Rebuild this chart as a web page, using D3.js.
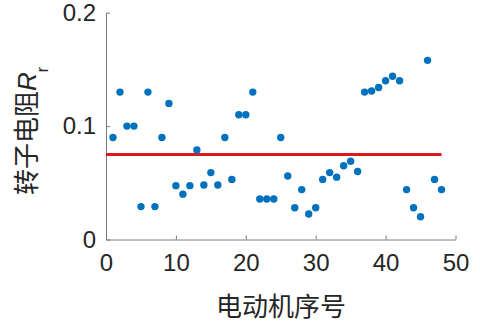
<!DOCTYPE html>
<html><head><meta charset="utf-8">
<script src="https://cdn.jsdelivr.net/npm/d3@7"></script>
<style>body{margin:0;background:#fff;}svg{display:block;}</style>
</head><body>
<svg id="c" width="480" height="330"></svg>
<script>
const motorIds = d3.range(1, 49);
const resistance = [0.090,0.130,0.100,0.100,0.029,0.130,0.029,0.090,0.120,0.0475,
  0.040,0.0475,0.079,0.048,0.059,0.048,0.090,0.053,0.110,0.110,
  0.130,0.0357,0.0357,0.0357,0.090,0.056,0.028,0.044,0.0225,0.028,
  0.053,0.059,0.055,0.065,0.069,0.060,0.130,0.131,0.134,0.140,
  0.144,0.140,0.044,0.028,0.020,0.158,0.053,0.044];
const meanValue = 0.075;
const meanRange = [0, 48];
const xTicks = [0,10,20,30,40,50];
const yTicks = [0,0.1,0.2];
const xLabel = "电动机序号";
const yLabel = "转子电阻";

const svg = d3.select("#c");
const x = d3.scaleLinear().domain([0,50]).range([106,455.5]);
const y = d3.scaleLinear().domain([0,0.2]).range([239.5,12.7]);
const font = "'Liberation Sans', Arial, sans-serif";
const cjk = "'Noto Sans CJK SC', sans-serif";
const axisCol = "#7a7a7a", textCol = "#262626";

const gx = svg.append("g").attr("transform",`translate(0,${y(0)})`)
  .call(d3.axisBottom(x).tickValues(xTicks).tickSizeInner(-4).tickSizeOuter(0).tickPadding(14).tickFormat(d3.format("d")));
const gy = svg.append("g").attr("transform",`translate(${x(0)},0)`)
  .call(d3.axisLeft(y).tickValues(yTicks).tickSizeInner(-4).tickSizeOuter(0).tickPadding(10).tickFormat(d => d===0?"0":d3.format(".1f")(d)));
[gx,gy].forEach(g=>{
  g.select(".domain").attr("stroke",axisCol).attr("stroke-width",1);
  g.selectAll(".tick line").attr("stroke",axisCol);
  g.selectAll(".tick text").attr("fill",textCol).style("font-family",font).style("font-size","24px");
});

svg.append("line")
  .attr("x1",x(meanRange[0])).attr("x2",x(meanRange[1]))
  .attr("y1",y(meanValue)).attr("y2",y(meanValue))
  .attr("stroke","#e0161d").attr("stroke-width",3);

svg.append("g").selectAll("circle").data(resistance).join("circle")
  .attr("cx",(d,i)=>x(motorIds[i])).attr("cy",d=>y(d)).attr("r",3.7)
  .attr("fill","#0072BD");

svg.append("text").attr("x",281).attr("y",316).attr("text-anchor","middle")
  .attr("fill",textCol).style("font-family",cjk).style("font-size","26px").text(xLabel);

const yl = svg.append("text").attr("transform","translate(36,131) rotate(-90)")
  .attr("text-anchor","middle").attr("fill",textCol).style("font-size","26px");
yl.append("tspan").style("font-family",cjk).text(yLabel);
yl.append("tspan").style("font-family",font).style("font-style","italic").text("R");
yl.append("tspan").style("font-family",font).style("font-size","16px").attr("dy",12).text("r");
</script>
</body></html>
